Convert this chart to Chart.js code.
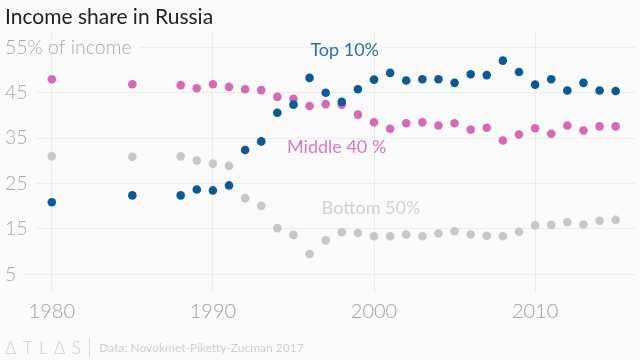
<!DOCTYPE html>
<html>
<head>
<meta charset="utf-8">
<script src="https://cdn.jsdelivr.net/npm/chart.js@4"></script>
<style>
  html, body { margin: 0; padding: 0; background: #fafafa; }
  #wrap { position: relative; width: 640px; height: 360px; overflow: hidden; }
  #title { position: absolute; left: 5px; top: 3px; font: 400 21px Lato, "Noto Sans", sans-serif; color: #222; }
  #foot { position: absolute; left: 5px; top: 337px; font: 400 12px Lato, "Noto Sans", sans-serif; color: #cfcfcf; white-space: nowrap; }
  #foot .logo { letter-spacing: 6.5px; font-size: 17px; font-weight: 300; vertical-align: -2px; }
  #foot .sep { display: inline-block; width: 1px; height: 20px; background: #d8d8d8; margin: 0 9px 0 2px; vertical-align: -5px; }
  canvas { position: absolute; left: 0; top: 0; }
</style>
</head>
<body>
<div id="wrap">
  <canvas id="chart" width="640" height="360"></canvas>
  <div id="title">Income share in Russia</div>
  <div id="foot"><span class="logo">ΔTLΔS</span><span class="sep"></span>Data: Novokmet-Piketty-Zucman 2017</div>
</div>
<script>
const years = [1980, 1985, 1988, 1989, 1990, 1991, 1992, 1993, 1994, 1995, 1996, 1997,
  1998, 1999, 2000, 2001, 2002, 2003, 2004, 2005, 2006, 2007, 2008, 2009, 2010,
  2011, 2012, 2013, 2014, 2015];
const top10 = [20.9, 22.4, 22.4, 23.7, 23.5, 24.6, 32.4, 34.3, 40.6, 42.4, 48.3, 45.0,
  43.0, 45.8, 47.9, 49.4, 47.7, 48.0, 48.0, 47.2, 49.1, 48.9, 52.1, 49.6, 46.8,
  48.0, 45.5, 47.2, 45.5, 45.4];
const middle40 = [48.0, 46.9, 46.7, 46.0, 46.9, 46.3, 45.8, 45.6, 44.1, 43.7, 42.1, 42.5,
  42.4, 40.2, 38.5, 37.1, 38.3, 38.5, 37.8, 38.3, 36.9, 37.3, 34.5, 35.8, 37.2,
  36.0, 37.8, 36.7, 37.6, 37.6];
const bottom50 = [31.0, 30.9, 31.0, 30.1, 29.4, 28.9, 21.8, 20.1, 15.2, 13.7, 9.5, 12.5,
  14.3, 14.1, 13.4, 13.4, 13.8, 13.4, 14.0, 14.5, 13.8, 13.5, 13.4, 14.4, 15.8,
  15.9, 16.5, 16.0, 16.8, 17.0];
const yTicks = [5, 15, 25, 35, 45, 55];
const xTicks = [1980, 1990, 2000, 2010];

const blue = "#0b5a98", pink = "#d668ba", grey = "#c7c7c7";

function pts(vals) {
  return years.map((y, i) => ({ x: y, y: vals[i] }));
}

// labels in the chart: tick text and series names
const labelPlugin = {
  id: "labels",
  afterDraw(chart) {
    const ctx = chart.ctx;
    const xs = chart.scales.x, ys = chart.scales.y;
    ctx.save();
    ctx.textBaseline = "middle";

    ctx.font = "300 19.5px Lato, sans-serif";
    ctx.textAlign = "left";
    yTicks.forEach(v => {
      const txt = v === 55 ? "55% of income" : String(v);
      const y = ys.getPixelForValue(v);
      const w = ctx.measureText(txt).width;
      ctx.fillStyle = "#fafafa";
      ctx.fillRect(0, y - 6, 5 + w + 8, 12);
      ctx.fillStyle = "#a9a9a9";
      ctx.fillText(txt, 5, y);
    });

    ctx.font = "300 20px Lato, sans-serif";
    ctx.textAlign = "center";
    ctx.fillStyle = "#a0a0a0";
    xTicks.forEach(v => ctx.fillText(String(v), xs.getPixelForValue(v), 312));

    ctx.font = "400 18px Lato, sans-serif";
    ctx.textAlign = "left";
    ctx.fillStyle = "#2f6ea8";
    ctx.fillText("Top 10%", xs.getPixelForValue(1996.05), ys.getPixelForValue(54.4));
    ctx.fillStyle = "#d77bc1";
    ctx.fillText("Middle 40 %", xs.getPixelForValue(1994.6), ys.getPixelForValue(33.0));
    ctx.fillStyle = "#d2d2d2";
    ctx.fillText("Bottom 50%", xs.getPixelForValue(1996.75), ys.getPixelForValue(19.6));
    ctx.restore();
  }
};

new Chart(document.getElementById("chart"), {
  type: "scatter",
  data: {
    datasets: [
      { label: "Top 10%", data: pts(top10), backgroundColor: blue, borderWidth: 0, pointRadius: 4.3 },
      { label: "Middle 40 %", data: pts(middle40), backgroundColor: pink, borderWidth: 0, pointRadius: 4.3 },
      { label: "Bottom 50%", data: pts(bottom50), backgroundColor: grey, borderWidth: 0, pointRadius: 4.3 }
    ]
  },
  options: {
    responsive: false,
    animation: false,
    layout: { padding: { left: 22, right: 5, top: 32, bottom: 67 } },
    plugins: { legend: { display: false }, tooltip: { enabled: false } },
    scales: {
      x: {
        type: "linear", min: 1978.15, max: 2016.2,
        afterBuildTicks: s => { s.ticks = xTicks.map(v => ({ value: v })); },
        ticks: { display: false },
        grid: { color: "#ececec", drawTicks: false },
        border: { display: false }
      },
      y: {
        min: 0.9, max: 58.4,
        afterBuildTicks: s => { s.ticks = yTicks.map(v => ({ value: v })); },
        ticks: { display: false },
        grid: { color: "#ececec", drawTicks: false },
        border: { display: false }
      }
    }
  },
  plugins: [labelPlugin]
});
</script>
</body>
</html>
